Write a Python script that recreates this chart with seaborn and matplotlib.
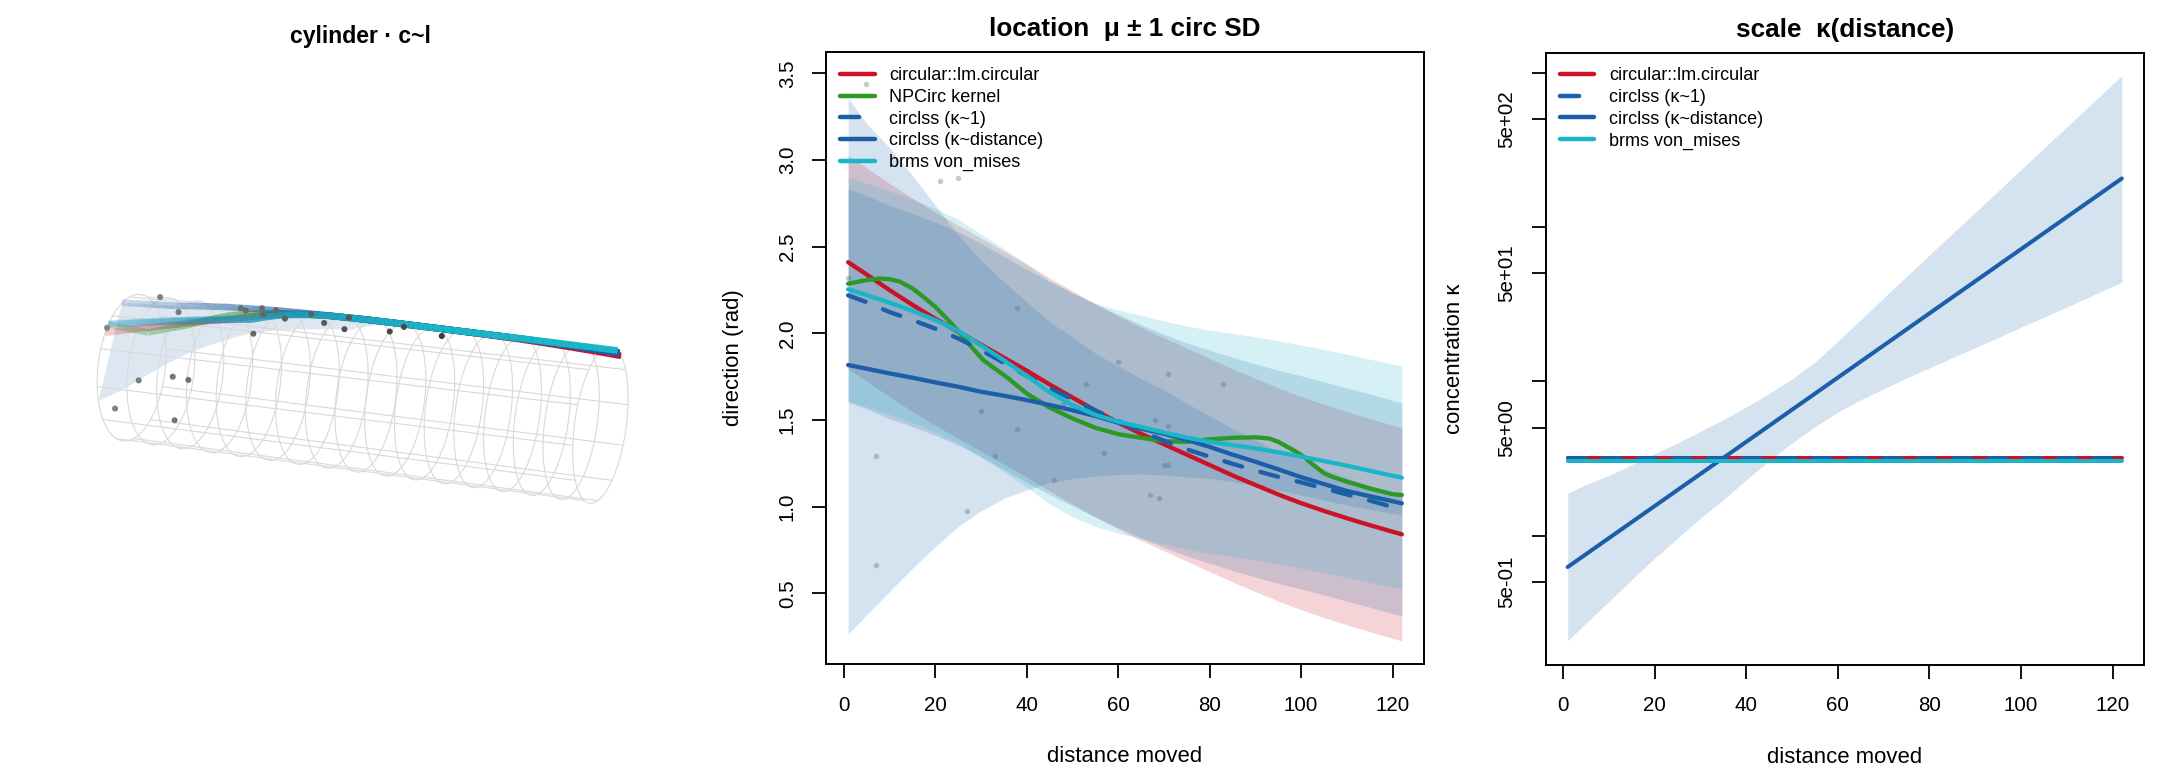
import numpy as np
import pandas as pd
import matplotlib
matplotlib.use("Agg")
import matplotlib.pyplot as plt
from matplotlib.collections import LineCollection
from matplotlib.lines import Line2D
import seaborn as sns

sns.set_theme(style="white")
plt.rcParams["font.family"] = ["Liberation Sans", "DejaVu Sans"]

RED, GREEN, BLUE, TEAL = "#CD1126", "#2B9924", "#1B5FA8", "#1BB5C8"
DASH = (0, (4.3, 4.4))

# Observations: distance moved and direction (rad)
obs_distance = [5, 1, 21, 25, 38, 53, 60, 71, 83, 7, 7, 27, 30, 33, 38, 46, 48, 57, 67, 69, 68, 71, 70, 71]
obs_direction = [3.436, 2.32, 2.877, 2.896, 2.146, 1.71, 1.833, 1.763, 1.71, 1.29, 0.663, 0.977, 1.554,
                 1.29, 1.448, 1.152, 1.59, 1.31, 1.065, 1.048, 1.5, 1.465, 1.24, 1.24]

# Distance grid shared by the fitted curves
dist = [1, 5, 10, 15, 20, 25, 30, 35, 40, 45, 50, 55, 60, 65, 70, 75, 80, 85, 90, 95, 100, 105, 110, 115, 120, 122]

# Mean direction curves
lm_mu = [2.41, 2.34, 2.25, 2.165, 2.085, 2.01, 1.935, 1.86, 1.785, 1.705, 1.63, 1.555, 1.485, 1.42, 1.36, 1.30,
         1.24, 1.18, 1.125, 1.07, 1.02, 0.975, 0.933, 0.893, 0.855, 0.84]
cs1_mu = [2.219, 2.18, 2.123, 2.077, 2.027, 1.971, 1.904, 1.83, 1.755, 1.685, 1.62, 1.555, 1.495, 1.435, 1.38, 1.33,
          1.288, 1.247, 1.208, 1.172, 1.14, 1.105, 1.07, 1.035, 0.998, 0.984]
csd_mu = [1.817, 1.796, 1.769, 1.744, 1.717, 1.692, 1.663, 1.64, 1.615, 1.587, 1.556, 1.523, 1.484, 1.45, 1.42, 1.385,
          1.345, 1.3, 1.259, 1.215, 1.17, 1.13, 1.09, 1.06, 1.031, 1.019]
brm_mu = [2.254, 2.221, 2.177, 2.13, 2.077, 2.015, 1.93, 1.845, 1.755, 1.66, 1.586, 1.53, 1.49, 1.46, 1.428, 1.398,
          1.374, 1.355, 1.336, 1.313, 1.288, 1.263, 1.236, 1.207, 1.178, 1.167]
np_x = [1, 5, 8, 10, 12.3, 15, 17.4, 20, 22.5, 25, 27.6, 30.5, 33.5, 36, 40, 45, 50, 55, 60, 65, 70, 75, 80, 85, 90,
        93, 95, 98, 100, 102, 105, 107, 110, 115, 120, 122]
np_mu = [2.286, 2.307, 2.316, 2.313, 2.298, 2.26, 2.211, 2.154, 2.086, 2.015, 1.932, 1.846, 1.788, 1.74, 1.653,
         1.572, 1.509, 1.455, 1.418, 1.397, 1.378, 1.374, 1.388, 1.397, 1.4, 1.393, 1.374, 1.33, 1.298, 1.255, 1.192,
         1.17, 1.144, 1.105, 1.072, 1.067]

# One circular SD for the constant-concentration fits
lm_sd, cs1_sd, brm_sd = 0.615, 0.615, 0.644

# Distance-dependent spread of the circlss (kappa ~ distance) fit
csd_upper = [3.356, 3.211, 3.073, 2.913, 2.74, 2.567, 2.423, 2.298, 2.182, 2.067, 1.98, 1.885, 1.81, 1.74, 1.673,
             1.596, 1.523, 1.451, 1.384, 1.317, 1.27, 1.215, 1.165, 1.115, 1.08, 1.07]
csd_lower = [0.265, 0.374, 0.509, 0.643, 0.768, 0.884, 0.976, 1.047, 1.095, 1.138, 1.163, 1.176, 1.186, 1.188, 1.182,
             1.172, 1.163, 1.144, 1.118, 1.095, 1.067, 1.038, 1.009, 0.984, 0.961, 0.951]

# Concentration
kappa_x = [1, 122]
kappa_lm = [3.2, 3.2]
kappa_cs1 = [3.2, 3.2]
kappa_brm = [3.05, 3.05]
kappa_csd = [0.625, 206.0]
kappa_hi = [1.88, 2.14, 2.45, 2.88, 3.39, 3.98, 4.73, 5.65, 6.81, 8.32, 10.35, 13.3, 18.2, 25.1, 34.7, 47.9, 65.8,
            90.6, 124.0, 171.0, 235.0, 324.0, 445.0, 612.0, 843.0, 955.0]
kappa_lo = [0.208, 0.271, 0.374, 0.518, 0.714, 0.964, 1.3, 1.71, 2.3, 3.05, 3.98, 5.07, 6.31, 7.59, 8.91, 10.5,
            12.2, 14.2, 16.5, 19.2, 22.4, 26.0, 30.3, 35.3, 41.2, 43.8]

# Cylinder view: surface angle (degrees) of each path against distance
cyl_lm_d = [1, 17, 30, 40, 50, 68, 78, 97, 122]
cyl_lm_phi = [61.5, 47, 33, 17, 3, -8, -11, -17, -28]
cyl_np_d = [1, 11.5, 20, 29, 38, 50, 68, 78, 97, 122]
cyl_np_phi = [54, 57, 46, 28, 16, 3, -8, -11, -15, -22]
cyl_cs1_d = [1, 17, 34.5, 40.5, 50, 68, 78, 97, 122]
cyl_cs1_phi = [54, 43, 31, 18, 3, -8, -11, -15, -24]
cyl_csd_d = [1, 14, 25, 38, 60, 78, 97, 122]
cyl_csd_phi = [27.5, 23, 14, 5, -5, -11, -15, -22]
cyl_brm_d = [1, 17, 34.5, 40.5, 50, 68, 78, 97, 122]
cyl_brm_phi = [53, 42, 30, 18, 3, -8, -11, -14, -18]
cyl_low_d = [1, 7.9, 15.8, 23.5, 31, 36, 44, 53.4, 59.6, 66, 72, 80, 122]
cyl_low_phi = [117, 104, 86, 69, 56, 47, 39, 33, 30, 13, 3, -8, -22]
cyl_pts_d = [1, 7, 16, 29, 31, 33, 37, 36, 42, 46, 52, 55, 58, 69, 71, 82, 37, 11.5, 20, 24, 5, 20]
cyl_pts_phi = [57, 3, 32, 12, 17, 2, 5, 21, 24, 5, 24, 0, 30, 26, 14, 24, 47, 96, 90, 91, 122, 126]


def project(d, phi_deg):
    """Project (distance, surface angle) onto the cylinder panel, in figure pixels."""
    t = (np.asarray(d, float) - 1) / 121
    phi = np.radians(phi_deg)
    cx, cy = 131.6 + 468.8 * t, 367.7 + 57.3 * t
    ux, uy = 6.9 + 2.7 * t, 73.3 + 5.0 * t
    vx = 33.7 - 7.7 * t
    return cx + ux * np.cos(phi) - vx * np.sin(phi), cy - uy * np.cos(phi)


def dense_path(d, phi, per_seg=8):
    """Subdivide a path so that it follows the curved surface once projected."""
    s = np.linspace(0, len(d) - 1, (len(d) - 1) * per_seg + 1)
    k = np.arange(len(d))
    return np.interp(s, k, d), np.interp(s, k, phi)


def axes_px(fig, left, right, top, bottom):
    return fig.add_axes([left / 2160, 1 - bottom / 770, (right - left) / 2160, (bottom - top) / 770])


def style_box(ax, xlabel, ylabel, ylabel_x, title):
    for s in ax.spines.values():
        s.set_visible(True)
        s.set_color("black")
        s.set_linewidth(1.4)
    ax.tick_params(axis="both", which="major", length=10, width=1.3, color="black", labelcolor="black",
                   labelsize=14.8, left=True, bottom=True)
    ax.tick_params(axis="x", pad=13)
    ax.tick_params(axis="y", pad=11)
    ax.set_xlim(-3.84, 126.84)
    ax.set_xticks([0, 20, 40, 60, 80, 100, 120])
    plt.setp(ax.get_yticklabels(), rotation=90, va="center")
    ax.set_xlabel(xlabel, fontsize=15.9, va="center", color="black")
    ax.xaxis.set_label_coords(0.5, -93 / 612)
    ax.set_ylabel(ylabel, fontsize=15.9, va="center", color="black")
    ax.yaxis.set_label_coords(ylabel_x, 0.5)
    ax.set_title(title, fontsize=18.8, fontweight="bold", color="black", y=1, pad=11.5)


def draw_curve(ax, x, y, color, dashed=False, lw=3.1):
    kws = dict(linestyle=DASH) if dashed else {}
    sns.lineplot(x=x, y=y, ax=ax, color=color, lw=lw, estimator=None, errorbar=None, sort=False,
                 solid_capstyle="round", dash_capstyle="round", legend=False, **kws)


def add_legend(ax, entries, anchor):
    handles = [Line2D([], [], color=c, lw=3.2, linestyle=DASH if d else "-",
                      solid_capstyle="round", dash_capstyle="round") for c, d, _ in entries]
    ax.legend(handles, [e[2] for e in entries], loc="upper left", bbox_to_anchor=anchor, frameon=False,
              fontsize=13, handlelength=1.92, handletextpad=0.82, labelspacing=0.255,
              borderpad=0, borderaxespad=0, labelcolor="black")


fig = plt.figure(figsize=(21.6, 7.7), dpi=100, facecolor="white")

# Left panel: curves wrapped on a cylinder
ax0 = fig.add_axes([0, 0, 720 / 2160, 1])
ax0.axis("off")
ax0.text(360, 37, "cylinder · c~l", fontsize=16.6, fontweight="bold", ha="center", va="center", color="black")

ux_, uy_ = project(*dense_path(cyl_csd_d, cyl_csd_phi))
lx_, ly_ = project(*dense_path(cyl_low_d, cyl_low_phi))
ax0.fill(np.r_[ux_, lx_[::-1]], np.r_[uy_, ly_[::-1]], color=BLUE, alpha=0.15, lw=0, zorder=1)

ring_d = np.linspace(1, 122, 17)
ring_phi = np.linspace(0, 360, 121)
for d in ring_d:
    rx, ry = project(np.full_like(ring_phi, d), ring_phi)
    ax0.plot(rx, ry, color="#d9d9d9", lw=0.8, zorder=2)
along = np.array([1.0, 122.0])
for a in np.arange(15, 360, 30):
    rx, ry = project(along, np.full(2, float(a)))
    ax0.plot(rx, ry, color="#d9d9d9", lw=0.8, zorder=2)

cyl_paths = [(cyl_lm_d, cyl_lm_phi, RED), (cyl_np_d, cyl_np_phi, GREEN), (cyl_cs1_d, cyl_cs1_phi, BLUE),
             (cyl_csd_d, cyl_csd_phi, BLUE), (cyl_brm_d, cyl_brm_phi, TEAL)]
for i, (d_, p_, c_) in enumerate(cyl_paths):
    dd, pp = dense_path(d_, p_)
    px, py = project(dd, pp)
    pts = np.column_stack([px, py])
    segs = np.stack([pts[:-1], pts[1:]], axis=1)
    base = np.array(matplotlib.colors.to_rgb(c_))
    fade = 0.22 + 0.78 * np.clip((dd[:-1] - 1) / 70, 0, 1)
    rgba = np.column_stack([np.tile(base, (len(fade), 1)), fade])
    ax0.add_collection(LineCollection(segs, colors=rgba, linewidths=4.8, capstyle="butt", zorder=3 + i))

px, py = project(cyl_pts_d, cyl_pts_phi)
sns.scatterplot(x=px, y=py, hue=cyl_pts_d, hue_norm=(1, 85), ax=ax0, s=19, linewidth=0, legend=False, zorder=9,
                palette=sns.blend_palette(["#868686", "#3a3a3a"], as_cmap=True))
ax0.set_xlim(0, 720)
ax0.set_ylim(770, 0)

# Middle panel: location with one circular SD
ax1 = axes_px(fig, 826, 1424, 52, 664)
sns.scatterplot(x=obs_distance, y=obs_direction, ax=ax1, color="#555555", alpha=0.32, s=15, linewidth=0, zorder=1)
ax1.fill_between(dist, np.array(lm_mu) - lm_sd, np.array(lm_mu) + lm_sd, color=RED, alpha=0.18, lw=0)
ax1.fill_between(dist, np.array(cs1_mu) - cs1_sd, np.array(cs1_mu) + cs1_sd, color=BLUE, alpha=0.18, lw=0)
ax1.fill_between(dist, csd_lower, csd_upper, color=BLUE, alpha=0.18, lw=0)
ax1.fill_between(dist, np.array(brm_mu) - brm_sd, np.array(brm_mu) + brm_sd, color=TEAL, alpha=0.18, lw=0)
draw_curve(ax1, dist, lm_mu, RED)
draw_curve(ax1, np_x, np_mu, GREEN)
draw_curve(ax1, dist, cs1_mu, BLUE, dashed=True)
draw_curve(ax1, dist, csd_mu, BLUE)
draw_curve(ax1, dist, brm_mu, TEAL)
ax1.set_ylim(0.092, 3.623)
ax1.set_yticks([0.5, 1.0, 1.5, 2.0, 2.5, 3.0, 3.5])
style_box(ax1, "distance moved", "direction (rad)", -92 / 598, "location  μ ± 1 circ SD")
add_legend(ax1, [(RED, False, "circular::lm.circular"), (GREEN, False, "NPCirc kernel"),
                 (BLUE, True, "circlss (κ~1)"), (BLUE, False, "circlss (κ~distance)"),
                 (TEAL, False, "brms von_mises")], (14 / 598, 1 - 15.5 / 612))

# Right panel: concentration against distance
ax2 = axes_px(fig, 1545.5, 2144, 52.5, 664.5)
ax2.fill_between(dist, kappa_lo, kappa_hi, color=BLUE, alpha=0.18, lw=0)
draw_curve(ax2, kappa_x, kappa_lm, RED, lw=2.9)
draw_curve(ax2, kappa_x, kappa_cs1, BLUE, dashed=True, lw=2.9)
draw_curve(ax2, kappa_x, kappa_csd, BLUE, lw=2.9)
draw_curve(ax2, kappa_x, kappa_brm, TEAL, lw=2.9)
ax2.set_yscale("log")
ax2.set_ylim(0.146, 1349)
ax2.set_yticks([0.5, 1, 5, 10, 50, 100, 500, 1000])
ax2.set_yticklabels(["5e-01", "", "5e+00", "", "5e+01", "", "5e+02", ""])
ax2.yaxis.set_minor_locator(matplotlib.ticker.NullLocator())
style_box(ax2, "distance moved", "concentration κ", -91.5 / 598.5, "scale  κ(distance)")
add_legend(ax2, [(RED, False, "circular::lm.circular"), (BLUE, True, "circlss (κ~1)"),
                 (BLUE, False, "circlss (κ~distance)"), (TEAL, False, "brms von_mises")],
           (14 / 598.5, 1 - 15 / 612))

fig.savefig("out.png", dpi=100, facecolor="white")
